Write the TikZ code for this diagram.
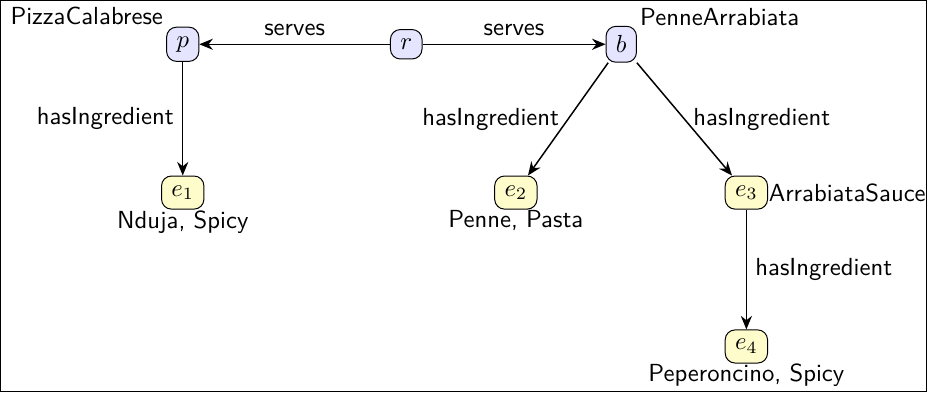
\documentclass[tikz,border=0pt]{standalone}
\usepackage{amsmath}
\usepackage{amssymb}
\usetikzlibrary{arrows.meta}

\begin{document}
\begin{tikzpicture}[font=\sffamily, >={Stealth[length=5.5pt,width=4.5pt]}, semithick,
  pizza/.style={draw, thin, rounded corners=4pt, fill=blue!10, inner xsep=4pt, inner ysep=3.8pt},
  ingr/.style={draw, thin, rounded corners=4pt, fill=yellow!20, inner xsep=4pt, inner ysep=3.8pt}]
 \useasboundingbox (0,0) rectangle (13.19,-5.58);
 \draw [thin] (0.01,-0.01) rectangle (13.18,-5.57);
 \node[pizza, label={[inner sep=1pt]above left:PizzaCalabrese}] at (2.60,-0.63)(p){$p$};
 \node[pizza] at (5.78,-0.63)(r){$r$};
 \node[pizza, label={[inner sep=1pt]above right:PenneArrabiata}] at (8.84,-0.63)(b){$b$};
 \node[ingr, label={[inner sep=0pt]below:Nduja, Spicy}] at (2.60,-2.74)(e1){$e_1$};
 \node[ingr, label={[inner sep=0pt]below:Penne, Pasta}] at (7.34,-2.74)(e2){$e_2$};
 \node[ingr, label={[inner sep=0pt]right:ArrabiataSauce}] at (10.62,-2.74)(e3){$e_3$};
 \node[ingr, label={[inner sep=0pt]below:Peperoncino, Spicy}] at (10.62,-4.93)(e4){$e_4$};
\draw [->] (r) -- node[above]{serves} (p);
\draw [->] (r) -- node[above]{serves} (b);
\draw [->] (p) -- node[left]{hasIngredient} (e1);
\draw [->] (b) -- node[left]{hasIngredient} (e2);
\draw [->] (b) -- node[right]{hasIngredient} (e3);
\draw [->] (e3) -- node[right]{hasIngredient} (e4);
\end{tikzpicture}
\end{document}
